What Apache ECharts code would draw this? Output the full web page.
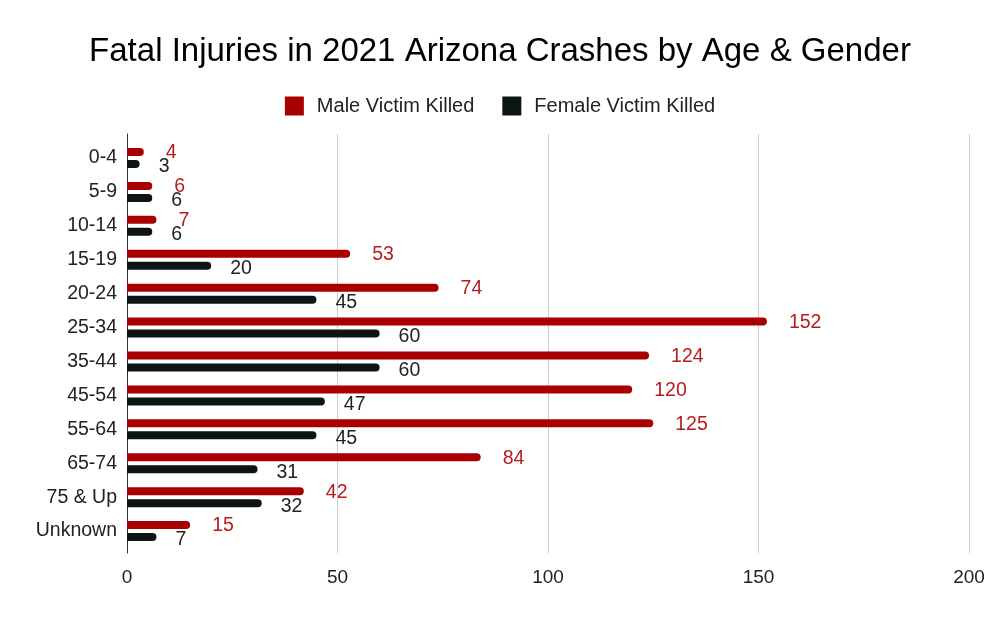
<!DOCTYPE html>
<html>
<head>
<meta charset="utf-8">
<script src="https://cdn.jsdelivr.net/npm/echarts@6/dist/echarts.min.js"></script>
<style>
  html, body { margin: 0; padding: 0; background: #fff; }
  #chart { width: 1000px; height: 618px; }
</style>
</head>
<body>
<div id="chart"></div>
<script>
var ageGroups = ['0-4', '5-9', '10-14', '15-19', '20-24', '25-34', '35-44', '45-54', '55-64', '65-74', '75 & Up', 'Unknown'];
var maleKilled = [4, 6, 7, 53, 74, 152, 124, 120, 125, 84, 42, 15];
var femaleKilled = [3, 6, 6, 20, 45, 60, 60, 47, 45, 31, 32, 7];
var xTicks = [0, 50, 100, 150, 200];

var font = 'Liberation Sans, Arial, sans-serif';
var myChart = echarts.init(document.getElementById('chart'));

var option = {
    animation: false,
    title: {
        text: 'Fatal Injuries in 2021 Arizona Crashes by Age & Gender',
        left: 'center',
        top: 30,
        textStyle: { fontFamily: font, fontSize: 33, fontWeight: 'normal', color: '#000' }
    },
    legend: {
        top: 91,
        left: 'center',
        itemWidth: 19,
        itemHeight: 19,
        itemGap: 28,
        icon: 'rect',
        textStyle: { fontFamily: font, fontSize: 20, color: '#222', padding: [0, 0, 0, 8] },
        data: ['Male Victim Killed', 'Female Victim Killed']
    },
    // grid 0 holds the bars, grid 1 only draws the slightly taller gridlines and axis line
    grid: [
        { left: 127, right: 31, top: 141, bottom: 70 },
        { left: 127, right: 31, top: 134, bottom: 65 }
    ],
    xAxis: [{
        type: 'value',
        gridIndex: 0,
        min: 0,
        max: 200,
        interval: 50,
        axisLine: { show: false },
        axisTick: { show: false },
        axisLabel: {
            fontFamily: font, fontSize: 19, color: '#222', margin: 20,
            formatter: function (v) { return xTicks.indexOf(v) >= 0 ? String(v) : ''; }
        },
        splitLine: { show: false }
    }, {
        type: 'value',
        gridIndex: 1,
        min: 0,
        max: 200,
        interval: 50,
        axisLine: { show: false },
        axisTick: { show: false },
        axisLabel: { show: false },
        splitLine: { lineStyle: { color: '#ccc', width: 1 } }
    }],
    yAxis: [{
        type: 'category',
        gridIndex: 0,
        inverse: true,
        data: ageGroups,
        axisLine: { show: false },
        axisTick: { show: false },
        axisLabel: { fontFamily: font, fontSize: 19.5, color: '#222', margin: 10, padding: [4, 0, 0, 0] }
    }, {
        type: 'value',
        gridIndex: 1,
        min: 0,
        max: 1,
        axisLine: { show: true, lineStyle: { color: '#333', width: 1 } },
        axisTick: { show: false },
        axisLabel: { show: false },
        splitLine: { show: false }
    }],
    series: [{
        name: 'Male Victim Killed',
        type: 'bar',
        xAxisIndex: 0,
        yAxisIndex: 0,
        barWidth: 8,
        barGap: '50%',
        z: 3,
        itemStyle: { color: '#a80000', borderRadius: [0, 4, 4, 0] },
        label: {
            show: true, position: 'right', distance: 22, offset: [0, 1],
            fontFamily: font, fontSize: 19.5, color: '#b71c1c'
        },
        data: maleKilled
    }, {
        name: 'Female Victim Killed',
        type: 'bar',
        xAxisIndex: 0,
        yAxisIndex: 0,
        barWidth: 8,
        z: 3,
        itemStyle: { color: '#0d1514', borderRadius: [0, 4, 4, 0] },
        label: {
            show: true, position: 'right', distance: 19, offset: [0, 3],
            fontFamily: font, fontSize: 19.5, color: '#222'
        },
        data: femaleKilled
    }]
};

myChart.setOption(option);
</script>
</body>
</html>
